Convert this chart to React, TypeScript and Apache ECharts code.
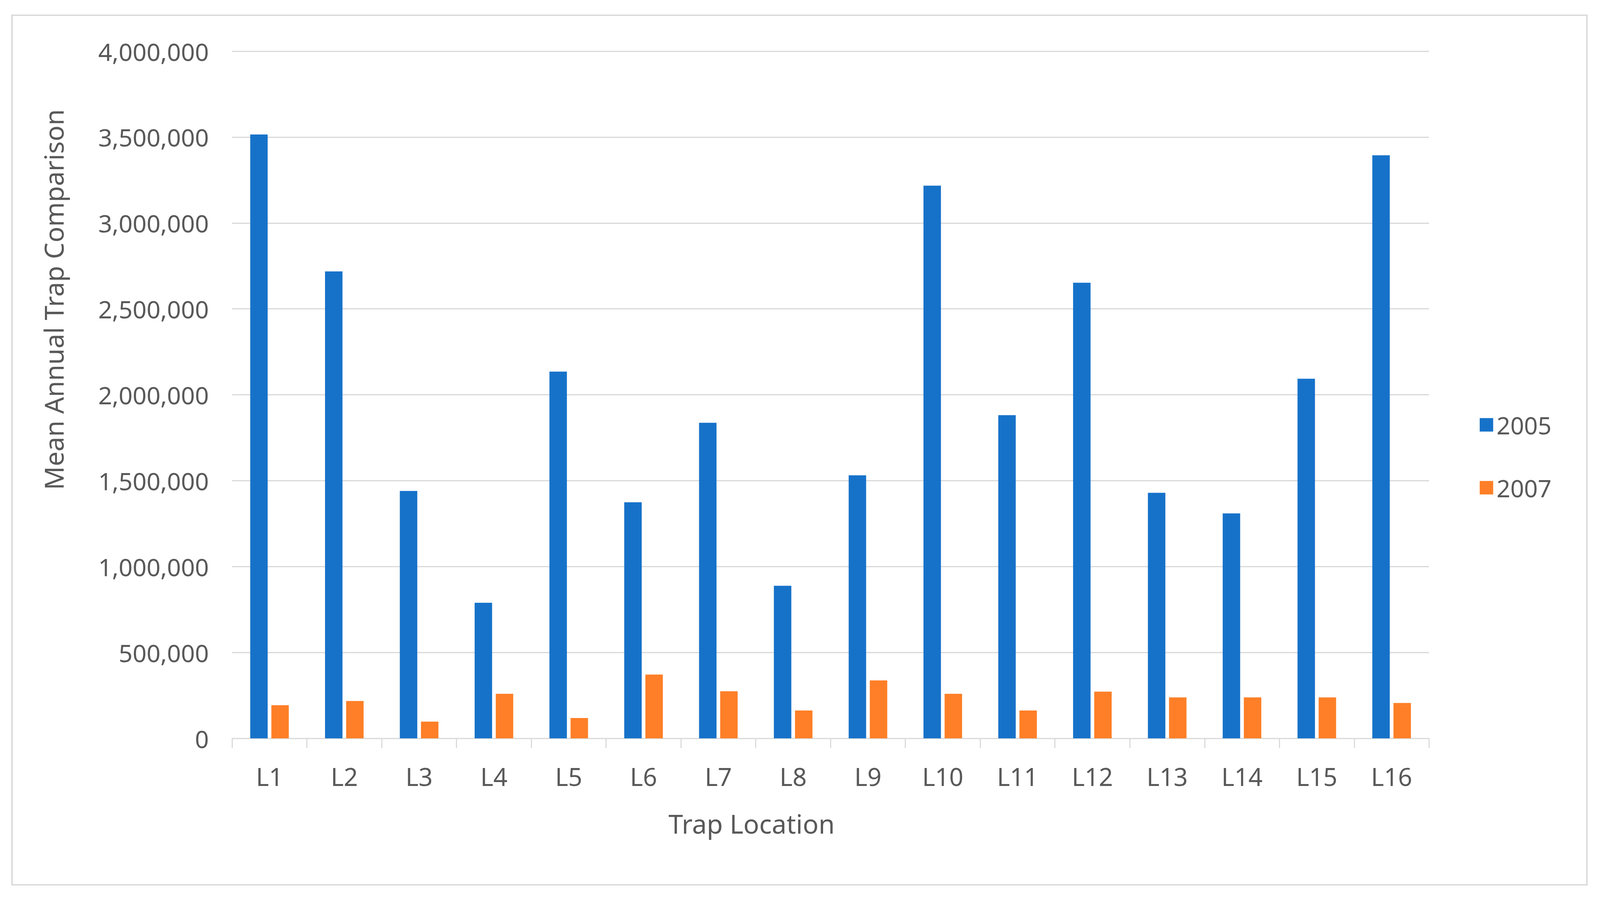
import React, { useEffect, useRef } from "react";
import * as echarts from "echarts";

const categories = ["L1", "L2", "L3", "L4", "L5", "L6", "L7", "L8", "L9", "L10", "L11", "L12", "L13", "L14", "L15", "L16"];
const seriesNames = ["2005", "2007"];
const values2005 = [3515000, 2718000, 1440000, 789000, 2135000, 1374000, 1837000, 888000, 1531000, 3217000, 1881000, 2652000, 1429000, 1309000, 2093000, 3394000];
const values2007 = [193000, 217000, 97000, 259000, 118000, 371000, 274000, 162000, 337000, 259000, 162000, 272000, 238000, 238000, 238000, 206000];
const yMin = 0;
const yMax = 4000000;
const yInterval = 500000;
const xTitle = "Trap Location";
const yTitle = "Mean Annual Trap Comparison";

const FONT = "'Noto Sans', 'Open Sans', sans-serif";
const TEXT = "#595959";
const GRID = "#d9d9d9";
const REF_W = 4398;
const REF_H = 2309;

export default function App() {
  const ref = useRef<HTMLDivElement>(null);
  useEffect(() => {
    if (!ref.current) return;
    const el = ref.current;
    const W = el.clientWidth || REF_W;
    const H = el.clientHeight || REF_H;
    const sx = W / REF_W;
    const sy = H / REF_H;
    const s = Math.min(sx, sy);
    const chart = echarts.init(el, undefined, { renderer: "svg" });
    chart.setOption({
      animation: false,
      backgroundColor: "#ffffff",
      textStyle: { fontFamily: FONT },
      grid: { left: 638 * sx, right: 470 * sx, top: 131 * sy, bottom: 419 * sy, containLabel: false },
      legend: {
        orient: "vertical",
        left: 4062 * sx,
        top: 1052 * sy,
        itemWidth: 37 * s,
        itemHeight: 37 * s,
        itemGap: 100 * sy,
        icon: "rect",
        data: seriesNames,
        textStyle: { color: TEXT, fontSize: 66 * s, fontFamily: FONT, lineHeight: 37 * s, padding: [0, 0, 0, 4 * s] },
      },
      xAxis: {
        type: "category",
        data: categories,
        axisLine: { show: true, lineStyle: { color: GRID, width: 3 * s } },
        axisTick: { show: true, length: 25 * sy, lineStyle: { color: GRID, width: 3 * s } },
        axisLabel: { color: TEXT, fontSize: 68 * s, fontFamily: FONT, margin: 97 * sy, verticalAlign: "middle", interval: 0 },
        splitLine: { show: false },
      },
      yAxis: {
        type: "value",
        min: yMin,
        max: yMax,
        interval: yInterval,
        axisLine: { show: false },
        axisTick: { show: false },
        axisLabel: {
          color: TEXT,
          fontSize: 67 * s,
          fontFamily: FONT,
          margin: 64 * sx,
          formatter: (v: number) => v.toLocaleString("en-US"),
        },
        splitLine: { show: true, lineStyle: { color: GRID, width: 3 * s } },
      },
      series: [
        {
          name: seriesNames[0],
          type: "bar",
          data: values2005,
          barWidth: 48 * sx,
          barGap: "21%",
          itemStyle: { color: "#1672c9" },
        },
        {
          name: seriesNames[1],
          type: "bar",
          data: values2007,
          barWidth: 48 * sx,
          barGap: "21%",
          itemStyle: { color: "#fe7f27" },
        },
      ],
      graphic: [
        {
          type: "rect",
          z: -1,
          shape: { x: 33 * sx, y: 39 * sy, width: 4329 * sx, height: 2226 * sy },
          style: { fill: "none", stroke: GRID, lineWidth: 4 * s },
          silent: true,
        },
        {
          type: "text",
          x: 2066 * sx,
          y: 2108 * sy,
          style: { text: xTitle, fill: TEXT, font: `${72 * s}px ${FONT}`, align: "center", verticalAlign: "middle" },
        },
        {
          type: "text",
          x: 147 * sx,
          y: 767 * sy,
          rotation: Math.PI / 2,
          style: { text: yTitle, fill: TEXT, font: `${72 * s}px ${FONT}`, align: "center", verticalAlign: "middle" },
        },
      ],
    });
    return () => chart.dispose();
  }, []);
  return (
    <div
      ref={ref}
      style={{ position: "fixed", left: 0, top: 0, width: "100vw", height: "100vh" }}
    />
  );
}
